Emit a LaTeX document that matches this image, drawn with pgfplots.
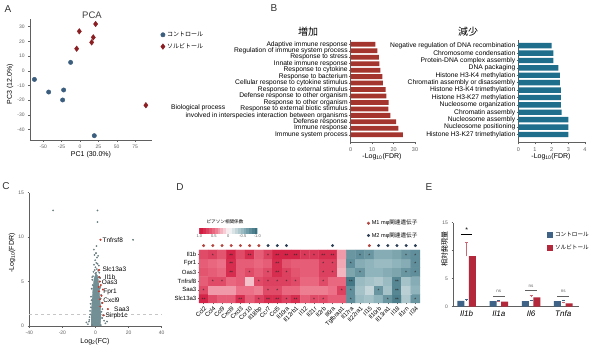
\documentclass[border=0pt]{standalone}
\usepackage{pgfplots}
\pgfplotsset{compat=1.18}
\usepackage{fontspec}
\setmainfont{Liberation Sans}
\newfontfamily\jp{Noto Sans CJK JP}
\definecolor{ctrl}{HTML}{3B5E7E}
\definecolor{sorb}{HTML}{8B1E22}
\definecolor{gored}{HTML}{A3352E}
\definecolor{goblue}{HTML}{1F6E8C}
\definecolor{volc}{HTML}{718F94}
\definecolor{vred}{HTML}{C0392B}
\definecolor{ered}{HTML}{B3283A}
\definecolor{eblue}{HTML}{3E6386}
\definecolor{m1}{HTML}{B5453F}
\definecolor{m2}{HTML}{2C3E55}
\definecolor{axg}{HTML}{606060}
\newcommand{\fs}[1]{\fontsize{#1}{#1}\selectfont}
\pgfplotsset{
 colormap={pear}{rgb255=(50,105,120) rgb255=(143,180,188) rgb255=(250,248,248) rgb255=(236,112,135) rgb255=(206,18,56)},
 base/.style={scale only axis, anchor=south west, enlargelimits=false,
   axis x line*=bottom, axis y line*=left,
   axis line style={axg, line width=0.4pt, -},
   tick style={axg, line width=0.4pt},
   tick align=outside, major tick length=1.8pt,
   /pgf/number format/assume math mode=true,
   tick label style={font=\fs{5}, text=axg},
   label style={font=\fs{7}}},
}
\begin{document}
\begin{tikzpicture}
\useasboundingbox (0,0) rectangle (590pt,363pt);
\fill[white] (0,0) rectangle (590pt,363pt);

% ---------------- A: PCA
\begin{axis}[base, at={(30pt,223.2pt)}, width=122pt, height=120.5pt,
  xmin=-68,xmax=98,ymin=-47,ymax=35,
  xtick={-50,-25,0,25,50,75}, ytick={-40,-30,-20,-10,0,10,20,30},
  xlabel={PC1 (30.0\%)}, ylabel={PC3 (12.0\%)},
  xlabel style={at={(axis description cs:0.5,-0.126)},anchor=center},
  ylabel style={at={(axis description cs:-0.164,0.463)},anchor=center},
  legend style={at={(axis description cs:1.07,0.915)}, anchor=north west, draw=none, fill=none, font=\jp\fs{6}, row sep=1.5pt, inner sep=0pt},
  legend cell align=left,
  legend image code/.code={\draw[#1] plot coordinates {(3pt,0pt)};},
  clip=false]
\addplot[only marks, mark=*, mark size=2.2pt, mark options={fill=ctrl, draw=ctrl}] coordinates {
(-62,-5.9) (-42.6,-14.5) (-22.2,-13.1) (-23.6,-19.9) (-12.7,5.7) (19.5,-44.2)};
\addlegendentry{コントロール}
\addplot[only marks, mark=diamond*, mark size=2.8pt, mark options={fill=sorb, draw=sorb}] coordinates {
(21.3,31.8) (-0.9,26.8) (18.1,22.7) (15.9,19.3) (-4.5,15.0) (89.7,-23.5)};
\addlegendentry{ソルビトール}
\end{axis}
\node[font=\fs{9.5}, text=black!75] at (92pt,348pt) {PCA};

% ---------------- B left
\begin{axis}[base, at={(350.7pt,220.5pt)}, width=64.3pt, height=102.7pt,
  xmin=0,xmax=30, ymin=-0.2, ymax=15.7,
  xtick={0,10,20,30}, ytick={1,...,15},
  yticklabels={Immune system process, Immune response, Defense response,
   involved in interspecies interaction between organisms,
   Response to external biotic stimulus, Response to other organism,
   Defense response to other organism, Response to external stimulus,
   Cellular response to cytokine stimulus, Response to bacterium,
   Response to cytokine, Innate immune response, Response to stress,
   Regulation of immune system process, Adaptive immune response},
  yticklabel style={font=\fs{6.7}, text=black, inner sep=1pt},
  xticklabel style={font=\fs{5.5}},
  xlabel={-Log\textsubscript{10}(FDR)},
  xlabel style={at={(axis description cs:0.487,-0.141)},anchor=center}]
\addplot[xbar, bar width=4.8pt, fill=gored, draw=none] coordinates {
(24.4,1) (22.2,2) (21.2,3) (18.5,4) (17.6,5) (17.7,6) (16.6,7) (16.3,8)
(15.0,9) (14.8,10) (13.8,11) (13.4,12) (13.1,13) (12.4,14) (11.5,15)};
\end{axis}
\node[anchor=west, font=\fs{6.7}, inner sep=0pt] at (171pt,255pt) {Biological process};
\node[font=\jp\fs{10}] at (308pt,331pt) {増加};

% ---------------- B right
\begin{axis}[base, at={(518.3pt,220.5pt)}, width=66.7pt, height=102pt,
  xmin=0,xmax=4, ymin=-0.08, ymax=13.7,
  xtick={0,1,2,3,4}, ytick={1,...,13},
  yticklabels={Histone H3-K27 trimethylation, Nucleosome positioning,
   Nucleosome assembly, Chromatin assembly, Nucleosome organization,
   Histone H3-K27 methylation, Histone H3-K4 trimethylation,
   Chromatin assembly or disassembly, Histone H3-K4 methylation,
   DNA packaging, Protein-DNA complex assembly, Chromosome condensation,
   Negative regulation of DNA recombination},
  yticklabel style={font=\fs{6.7}, text=black, inner sep=1pt},
  xticklabel style={font=\fs{5.5}},
  xlabel={-Log\textsubscript{10}(FDR)},
  xlabel style={at={(axis description cs:0.49,-0.142)},anchor=center}]
\addplot[xbar, bar width=5.4pt, fill=goblue, draw=none] coordinates {
(3.0,1) (3.0,2) (3.0,3) (2.6,4) (2.55,5) (2.55,6) (2.55,7) (2.5,8)
(2.5,9) (2.4,10) (2.1,11) (2.1,12) (2.0,13)};
\end{axis}
\node[font=\jp\fs{10}] at (468pt,331pt) {減少};

% ---------------- C volcano
\begin{axis}[base, at={(29.3pt,37pt)}, width=132.4pt, height=133.3pt,
  xmin=-40,xmax=40,ymin=0,ymax=15,
  xtick={-40,-20,0,20,40}, ytick={0,5,10,15},
  xlabel={Log\textsubscript{2}(FC)}, ylabel={-Log\textsubscript{10}(FDR)},
  xlabel style={at={(axis description cs:0.496,-0.12)},anchor=center},
  ylabel style={at={(axis description cs:-0.131,0.548)},anchor=center},
  clip=false]
\addplot[gray!45, dashed, line width=0.3pt] coordinates {(-40,1.3) (40,1.3)};
\addplot[fill=volc, draw=volc, line width=0.3pt] coordinates {
(-2.6,0) (2.9,0) (3.3,1) (3.1,2) (2.7,3) (2.3,4) (1.9,5) (1.2,5.7) (0.3,5.9)
(-0.8,5.4) (-1.4,4.6) (-1.8,3.6) (-2.2,2.5) (-2.6,1.2)} -- cycle;
\addplot[only marks, mark=*, mark size=0.75pt, mark options={fill=volc!75, draw=volc!70!black, line width=0.2pt}] coordinates {
(0.3,8.2) (-0.6,8.0) (0.9,7.7) (1.6,7.9) (-0.2,7.4) (0.5,7.1) (1.2,7.0) (-0.9,6.9)
(2.0,6.8) (0.0,6.6) (0.8,6.4) (-0.5,6.3) (1.6,6.2) (-1.2,6.1) (0.4,6.0) (2.3,6.0)
(-0.1,5.9) (-1.9,5.2) (2.6,5.0) (-2.3,4.2) (3.0,4.4) (-2.7,3.3) (3.4,3.5) (-3.0,2.5)
(3.8,2.6) (-3.3,1.7) (4.2,1.9) (-3.6,1.0) (4.6,1.2) (-4.0,0.5) (5.2,0.6) (-4.6,0.2)
(6.0,0.3) (-2.0,0.1) (3.2,0.1) (-1.0,8.6) (0.6,9.0) (-25.6,13.0) (1.2,13.0) (1.2,11.7)
(22.7,9.7) (-1.5,5.6) (1.9,5.5) (-1.7,4.6) (2.5,4.2) (-2.4,2.9) (-2.8,2.1) (3.1,3.1)
(-3.2,1.3) (3.6,1.6) (-3.7,0.7) (4.0,0.9) (-5.5,0.4) (7.0,0.5) (2.8,5.4) (-2.0,5.5)};
\addplot[only marks, mark=*, mark size=0.8pt, mark options={fill=vred, draw=vred}] coordinates {
(3.0,9.7) (2.1,6.3) (2.4,5.5) (2.6,5.0) (3.2,4.6) (2.2,3.9) (3.6,3.4) (2.7,3.0)
(4.2,2.6) (7.5,1.9) (5.0,1.2) (3.0,2.2) (4.5,4.1) (2.0,4.4)};
\node[anchor=west, font=\fs{6.5}, inner sep=0pt] at (axis cs:4.2,9.7) {Tnfrsf8};
\node[anchor=west, font=\fs{6.5}, inner sep=0pt] at (axis cs:4.2,6.4) {Slc13a3};
\node[anchor=west, font=\fs{6.5}, inner sep=0pt] at (axis cs:5.6,5.5) {Il1b};
\node[anchor=west, font=\fs{6.5}, inner sep=0pt] at (axis cs:3.8,4.9) {Oas3};
\node[anchor=west, font=\fs{6.5}, inner sep=0pt] at (axis cs:4.6,3.8) {Fpr1};
\node[anchor=west, font=\fs{6.5}, inner sep=0pt] at (axis cs:4.6,2.95) {Cxcl9};
\node[anchor=west, font=\fs{6.5}, inner sep=0pt] at (axis cs:11.2,1.9) {Saa3};
\node[anchor=west, font=\fs{6.5}, inner sep=0pt] at (axis cs:6.0,1.1) {Sirpb1c};
\end{axis}

% ---------------- D heatmap
\begin{axis}[scale only axis, anchor=south west, at={(199pt,60pt)}, width=221pt, height=53pt,
  enlargelimits=false, xmin=0.5, xmax=24.5, ymin=0.5, ymax=6.5,
  axis x line*=bottom, axis y line*=left, axis line style={draw=none},
  tick style={axg, line width=0.4pt}, tick align=outside, major tick length=1.5pt,
  xtick={1,...,24}, ytick={1,...,6},
  xticklabels={Ccl2,Ccl4,Ccl9,Cxcl9,Cxcl3,Ccr10,Il18bp,Ccr7,Ccl5,Il10ra,Il12rb1,Il12,Il21r,Il2rb,Il6ra,Tgfbrap1,Il17ra,Il22ra1,Il15,Il10rb,Il13ra1,Il18,Il1rn,Il34},
  yticklabels={Slc13a3,Saa3,Tnfrsf8,Oas3,Fpr1,Il1b},
  xticklabel style={font=\fs{6}, rotate=45, anchor=north east, inner sep=1pt},
  yticklabel style={font=\fs{6}, inner sep=1pt},
  colormap name=pear, point meta min=-1, point meta max=1,
  clip=false,
  legend style={at={(axis description cs:0.76,1.604)}, anchor=north west, draw=none, fill=none, font=\fs{5.6}, row sep=2pt, inner sep=0pt},
  legend cell align=left,
  legend image code/.code={\draw[#1] plot coordinates {(2pt,0pt)};}]
\addplot[matrix plot*, mesh/cols=24, point meta=explicit, forget plot] coordinates {
(1,1)[0.9] (2,1)[0.7] (3,1)[0.6] (4,1)[0.6] (5,1)[0.85] (6,1)[0.6] (7,1)[0.75] (8,1)[0.85] (9,1)[0.85] (10,1)[0.75] (11,1)[0.85] (12,1)[0.6] (13,1)[0.7] (14,1)[0.7] (15,1)[0.6] (16,1)[0.6] (17,1)[-0.75] (18,1)[-0.45] (19,1)[-0.4] (20,1)[-0.5] (21,1)[-0.7] (22,1)[-0.85] (23,1)[-0.35] (24,1)[-0.7]

(1,2)[0.7] (2,2)[0.35] (3,2)[0.35] (4,2)[0.35] (5,2)[0.5] (6,2)[0.5] (7,2)[0.45] (8,2)[0.7] (9,2)[0.7] (10,2)[0.55] (11,2)[0.55] (12,2)[0.45] (13,2)[0.45] (14,2)[0.45] (15,2)[0.5] (16,2)[0.75] (17,2)[-0.75] (18,2)[-0.4] (19,2)[-0.25] (20,2)[-0.7] (21,2)[-0.4] (22,2)[-0.8] (23,2)[-0.3] (24,2)[-0.5]

(1,3)[0.6] (2,3)[0.7] (3,3)[0.7] (4,3)[0.55] (5,3)[0.6] (6,3)[0.2] (7,3)[0.7] (8,3)[0.75] (9,3)[0.75] (10,3)[0.75] (11,3)[0.7] (12,3)[0.55] (13,3)[0.55] (14,3)[0.7] (15,3)[0.55] (16,3)[0.55] (17,3)[-0.9] (18,3)[-0.45] (19,3)[-0.4] (20,3)[-0.35] (21,3)[-0.45] (22,3)[-0.8] (23,3)[-0.4] (24,3)[-0.55]

(1,4)[0.65] (2,4)[0.6] (3,4)[0.55] (4,4)[0.85] (5,4)[0.6] (6,4)[0.7] (7,4)[0.6] (8,4)[0.7] (9,4)[0.85] (10,4)[0.75] (11,4)[0.65] (12,4)[0.6] (13,4)[0.6] (14,4)[0.75] (15,4)[0.75] (16,4)[0.25] (17,4)[-0.6] (18,4)[-0.7] (19,4)[-0.5] (20,4)[-0.5] (21,4)[-0.55] (22,4)[-0.6] (23,4)[-0.7] (24,4)[-0.75]

(1,5)[0.6] (2,5)[0.55] (3,5)[0.5] (4,5)[0.85] (5,5)[0.6] (6,5)[0.6] (7,5)[0.55] (8,5)[0.6] (9,5)[0.85] (10,5)[0.65] (11,5)[0.6] (12,5)[0.6] (13,5)[0.6] (14,5)[0.75] (15,5)[0.75] (16,5)[0.3] (17,5)[-0.75] (18,5)[-0.55] (19,5)[-0.5] (20,5)[-0.45] (21,5)[-0.45] (22,5)[-0.5] (23,5)[-0.55] (24,5)[-0.75]

(1,6)[0.7] (2,6)[0.75] (3,6)[0.65] (4,6)[0.9] (5,6)[0.7] (6,6)[0.85] (7,6)[0.6] (8,6)[0.75] (9,6)[0.9] (10,6)[0.9] (11,6)[0.9] (12,6)[0.8] (13,6)[0.8] (14,6)[0.85] (15,6)[0.85] (16,6)[0.35] (17,6)[-0.7] (18,6)[-0.75] (19,6)[-0.7] (20,6)[-0.55] (21,6)[-0.55] (22,6)[-0.6] (23,6)[-0.7] (24,6)[-0.75]
};
\addplot[draw=none, mark=none, nodes near coords, point meta=explicit symbolic, nodes near coords align=center,
  every node near coord/.append style={font=\fs{5}, inner sep=0pt, yshift=-1pt, text=black!85}, forget plot] coordinates {
(2,6)[*] (4,6)[**] (6,6)[**] (8,6)[*] (9,6)[**] (10,6)[**] (11,6)[**] (12,6)[*] (13,6)[*] (14,6)[**] (15,6)[**] (18,6)[*] (19,6)[*] (23,6)[*] (24,6)[*]
(4,5)[**] (9,5)[**] (14,5)[*] (15,5)[*] (17,5)[*] (24,5)[*]
(4,4)[**] (6,4)[*] (8,4)[*] (9,4)[**] (10,4)[*] (14,4)[*] (15,4)[*] (18,4)[*] (23,4)[*] (24,4)[*]
(2,3)[*] (3,3)[*] (7,3)[*] (8,3)[*] (9,3)[*] (10,3)[*] (11,3)[*] (14,3)[*] (17,3)[**] (22,3)[**]
(1,2)[*] (8,2)[*] (9,2)[*] (16,2)[*] (17,2)[*] (20,2)[*] (22,2)[**]
(1,1)[**] (5,1)[**] (7,1)[*] (8,1)[**] (9,1)[**] (10,1)[*] (11,1)[**] (13,1)[*] (14,1)[*] (17,1)[*] (21,1)[*] (22,1)[**] (24,1)[*]};
\addplot[only marks, mark=*, mark size=1.3pt, color=m1] coordinates {
(1,7) (2,7) (3,7) (4,7) (5,7) (6,7) (7,7) (19,7)};
\addlegendentry{M1 mφ{\jp 関連遺伝子}}
\addplot[only marks, mark=*, mark size=1.3pt, color=m2] coordinates {
(8,7) (9,7) (10,7) (15,7) (20,7) (21,7) (22,7) (23,7) (24,7)};
\addlegendentry{M2 mφ{\jp 関連遺伝子}}
\end{axis}

% colorbar
\begin{axis}[scale only axis, anchor=south west, at={(199.3pt,129pt)}, width=58pt, height=5.7pt,
  xmin=-1,xmax=1,ymin=0,ymax=1, x dir=reverse, enlargelimits=false,
  axis line style={draw=none}, ytick=\empty, xtick={-1,-0.5,0,0.5,1},
  xticklabels={-1.0,-0.5,0,0.5,1.0}, xticklabel style={font=\fs{4}, text=axg, inner sep=1pt},
  tick style={draw=none}, colormap name=pear, point meta min=-1, point meta max=1]
\addplot[surf, shader=flat mean, mesh/cols=21, point meta=x] coordinates {
(-1,0) (-0.9,0) (-0.8,0) (-0.7,0) (-0.6,0) (-0.5,0) (-0.4,0) (-0.3,0) (-0.2,0) (-0.1,0) (0,0) (0.1,0) (0.2,0) (0.3,0) (0.4,0) (0.5,0) (0.6,0) (0.7,0) (0.8,0) (0.9,0) (1,0)

(-1,1) (-0.9,1) (-0.8,1) (-0.7,1) (-0.6,1) (-0.5,1) (-0.4,1) (-0.3,1) (-0.2,1) (-0.1,1) (0,1) (0.1,1) (0.2,1) (0.3,1) (0.4,1) (0.5,1) (0.6,1) (0.7,1) (0.8,1) (0.9,1) (1,1)
};
\end{axis}
\node[font=\jp\fs{4.6}] at (225pt,141pt) {ピアソン相関係数};

% ---------------- E bars
\begin{axis}[base, at={(453.3pt,56.3pt)}, width=125.7pt, height=84pt,
  xmin=0.584,xmax=4.49,ymin=0,ymax=15, ytick={0,5,10,15}, xtick={1,2,3,4},
  xticklabels={Il1b,Il1a,Il6,Tnfa},
  xticklabel style={font=\fs{8}\itshape, text=black, inner sep=2pt},
  xtick style={draw=none},
  ylabel={\jp 相対発現量},
  ylabel style={at={(axis description cs:-0.07,0.687)},anchor=center, font=\fs{7}},
  legend style={at={(axis description cs:0.741,0.913)}, anchor=north west, draw=none, fill=none, font=\jp\fs{5.6}, row sep=3pt, inner sep=0pt},
  legend cell align=left,
  legend image code/.code={\fill[#1] (0pt,-2.8pt) rectangle (6.5pt,2.8pt);},
  clip=false]
\addplot[ybar, bar width=7pt, bar shift=-5.8pt, fill=eblue, draw=none,
  error bars/.cd, y dir=plus, y explicit, error bar style={eblue, line width=0.5pt},
  error mark options={rotate=90, mark size=1.5pt, eblue}] coordinates {
(1,1.05) +- (0,0.2) (2,1.0) +- (0,0.1) (3,1.0) +- (0,0.15) (4,1.0) +- (0,0.2)};
\addlegendentry{コントロール}
\addplot[ybar, bar width=7pt, bar shift=5.8pt, fill=ered, draw=none,
  error bars/.cd, y dir=plus, y explicit, error bar style={ered!70, line width=0.5pt},
  error mark options={rotate=90, mark size=1.5pt, ered!70}] coordinates {
(1,9.05) +- (0,2.5) (2,0.9) +- (0,0.15) (3,1.65) +- (0,0.35) (4,0.6) +- (0,0.2)};
\addlegendentry{ソルビトール}
\addplot[black, line width=0.4pt, forget plot] coordinates {(0.82,13) (1.18,13)};
\addplot[axg, line width=0.3pt, forget plot] coordinates {(1.82,1.9) (2.18,1.9)};
\addplot[axg, line width=0.3pt, forget plot] coordinates {(2.82,2.9) (3.18,2.9)};
\addplot[axg, line width=0.3pt, forget plot] coordinates {(3.82,1.9) (4.18,1.9)};
\node[font=\fs{7}] at (axis cs:1,13.6) {*};
\node[font=\fs{4.5}, text=axg] at (axis cs:2,2.7) {ns};
\node[font=\fs{4.5}, text=axg] at (axis cs:3,3.7) {ns};
\node[font=\fs{4.5}, text=axg] at (axis cs:4,2.7) {ns};
\end{axis}

% panel letters
\node[font=\fs{10}, text=black!80] at (8pt,354pt) {A};
\node[font=\fs{10}, text=black!80] at (274pt,355pt) {B};
\node[font=\fs{10}, text=black!80] at (6pt,177pt) {C};
\node[font=\fs{10}, text=black!80] at (180pt,176pt) {D};
\node[font=\fs{10}, text=black!80] at (429pt,176pt) {E};
\end{tikzpicture}
\end{document}
